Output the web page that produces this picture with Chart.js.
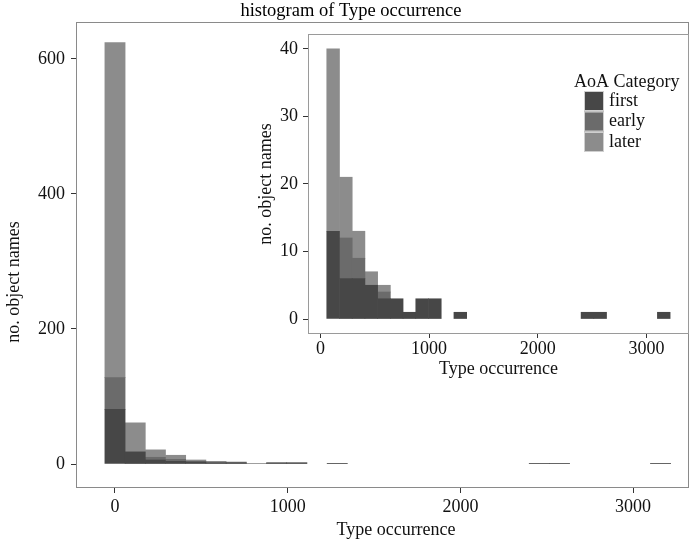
<!DOCTYPE html>
<html>
<head>
<meta charset="utf-8">
<script src="https://cdn.jsdelivr.net/npm/chart.js@4.4.1/dist/chart.umd.min.js"></script>
<style>
  html, body { margin: 0; padding: 0; background: #fff; }
  #wrap { position: relative; width: 700px; height: 541px; }
  #mainChart { position: absolute; left: 0; top: 0; }
  #insetChart { position: absolute; left: 250px; top: 28px; }
</style>
</head>
<body>
<div id="wrap">
  <canvas id="mainChart" width="700" height="541"></canvas>
  <canvas id="insetChart" width="450" height="352"></canvas>
</div>
<script>
// bin centres (Type occurrence), bin width ~117
const mainBins = [0, 117, 234, 351, 468, 585, 702, 819, 936, 1053, 1170, 1287, 1404, 1521,
  1638, 1755, 1872, 1989, 2106, 2223, 2340, 2457, 2574, 2691, 2808, 2925, 3042, 3159];
const mainFirst = [81, 18, 6, 4, 3, 2, 2, 0, 2, 2, 0, 1, 0, 0, 0, 0, 0, 0, 0, 0, 0, 1, 1, 0, 0, 0, 0, 1];
const mainEarly = [47, 0, 4, 3, 1, 0, 0, 0, 0, 0, 0, 0, 0, 0, 0, 0, 0, 0, 0, 0, 0, 0, 0, 0, 0, 0, 0, 0];
const mainLater = [496, 43, 11, 6, 2, 2, 1, 1, 0, 0, 0, 0, 0, 0, 0, 0, 0, 0, 0, 0, 0, 0, 0, 0, 0, 0, 0, 0];

const insetBins = [117, 234, 351, 468, 585, 702, 819, 936, 1053, 1170, 1287, 1404, 1521,
  1638, 1755, 1872, 1989, 2106, 2223, 2340, 2457, 2574, 2691, 2808, 2925, 3042, 3159];
const insetFirst = [13, 6, 6, 5, 3, 3, 1, 3, 3, 0, 1, 0, 0, 0, 0, 0, 0, 0, 0, 0, 1, 1, 0, 0, 0, 0, 1];
const insetEarly = [0, 6, 3, 0, 1, 0, 0, 0, 0, 0, 0, 0, 0, 0, 0, 0, 0, 0, 0, 0, 0, 0, 0, 0, 0, 0, 0];
const insetLater = [27, 9, 4, 2, 1, 0, 0, 0, 0, 0, 0, 0, 0, 0, 0, 0, 0, 0, 0, 0, 0, 0, 0, 0, 0, 0, 0];

const categories = ['first', 'early', 'later'];
const mainXTicks = [0, 1000, 2000, 3000];
const mainYTicks = [0, 200, 400, 600];
const insetXTicks = [0, 1000, 2000, 3000];
const insetYTicks = [0, 10, 20, 30, 40];

const colors = ['#474747', '#6b6b6b', '#8c8c8c'];
const serif = "'Liberation Serif', 'Times New Roman', serif";
const txt = '#111';

function makeDatasets(bins, series) {
  return series.map((vals, i) => ({
    label: categories[i],
    // empty bins are left out (null) so no hairline is drawn
    data: bins.map((x, j) => ({ x: x, y: vals[j] === 0 ? null : vals[j] })),
    backgroundColor: colors[i],
    borderWidth: 0,
    barPercentage: 1,
    categoryPercentage: 1
  }));
}

// grey box round the plot panel
const panelBorder = {
  id: 'panelBorder',
  afterDraw(chart, args, opts) {
    const a = chart.chartArea;
    const ctx = chart.ctx;
    ctx.save();
    ctx.strokeStyle = opts.color || '#888';
    ctx.lineWidth = 1;
    ctx.strokeRect(a.left - 0.5, a.top - 0.5, a.right - a.left + 1, a.bottom - a.top + 1);
    ctx.restore();
  }
};

// white backing for the inset, stopping at its right border
const insetBackground = {
  id: 'insetBackground',
  beforeDraw(chart) {
    const ctx = chart.ctx;
    ctx.save();
    ctx.fillStyle = '#fff';
    ctx.fillRect(0, 0, chart.chartArea.right, chart.height);
    ctx.restore();
  }
};

const insetLegend = {
  id: 'insetLegend',
  afterDraw(chart) {
    const ctx = chart.ctx;
    ctx.save();
    ctx.font = '18px ' + serif;
    ctx.textBaseline = 'middle';
    ctx.textAlign = 'left';
    ctx.fillStyle = txt;
    ctx.fillText('AoA Category', 324, 54);
    chart.data.datasets.forEach((ds, i) => {
      const y = 63 + i * 20.5;
      ctx.fillStyle = ds.backgroundColor;
      ctx.fillRect(334, y, 20, 20);
      ctx.strokeStyle = '#cfcfcf';
      ctx.strokeRect(334.5, y + 0.5, 19, 19);
      ctx.fillStyle = txt;
      ctx.fillText(ds.label, 359, y + 10);
    });
    ctx.restore();
  }
};

function axis(o) {
  return {
    type: 'linear',
    stacked: true,
    offset: false,
    min: o.min,
    max: o.max,
    afterBuildTicks: s => { s.ticks = o.ticks.map(v => ({ value: v })); },
    afterFit: s => {
      if (o.w !== undefined) s.width = o.w;
      if (o.h !== undefined) s.height = o.h;
      s.paddingTop = 0; s.paddingBottom = 0; s.paddingLeft = 0; s.paddingRight = 0;
    },
    grid: { drawOnChartArea: false, drawTicks: true, offset: false, tickLength: o.tickLen, tickColor: '#333', tickWidth: 1 },
    border: { display: false },
    ticks: { autoSkip: false, maxRotation: 0, padding: o.pad, color: txt, font: { family: serif, size: 18 }, callback: v => String(v) },
    title: { display: true, text: o.title, color: txt, font: { family: serif, size: 18 }, padding: o.titlePad }
  };
}

new Chart(document.getElementById('mainChart'), {
  type: 'bar',
  data: { datasets: makeDatasets(mainBins, [mainFirst, mainEarly, mainLater]) },
  options: {
    responsive: false,
    animation: false,
    devicePixelRatio: 1,
    layout: { padding: { top: 0, right: 12, left: 0, bottom: 0 } },
    scales: {
      x: axis({ min: -220, max: 3318, ticks: mainXTicks, h: 54, tickLen: 6, pad: 3,
        title: '      Type occurrence', titlePad: { top: 0, bottom: 0 } }),
      y: axis({ min: -34, max: 653, ticks: mainYTicks, w: 77, tickLen: 6, pad: 6,
        title: 'no. object names            ', titlePad: { top: 3, bottom: 0 } })
    },
    plugins: {
      legend: { display: false },
      tooltip: { enabled: false },
      title: { display: true, text: '   histogram of Type occurrence', color: '#000',
        font: { family: serif, size: 18.5, weight: 'normal' }, padding: { top: 0, bottom: 0.8 } },
      panelBorder: { color: '#8a8a8a' }
    }
  },
  plugins: [panelBorder]
});

new Chart(document.getElementById('insetChart'), {
  type: 'bar',
  data: { datasets: makeDatasets(insetBins, [insetFirst, insetEarly, insetLater]) },
  options: {
    responsive: false,
    animation: false,
    devicePixelRatio: 1,
    layout: { padding: { top: 7, right: 12, left: 0, bottom: 0 } },
    scales: {
      x: axis({ min: -105, max: 3382, ticks: insetXTicks, h: 47, tickLen: 5, pad: 0,
        title: 'Type occurrence', titlePad: { top: 0, bottom: 0 } }),
      y: axis({ min: -2.07, max: 42.06, ticks: insetYTicks, w: 59, tickLen: 6, pad: 5,
        title: 'no. object names', titlePad: { top: 5, bottom: 0 } })
    },
    plugins: {
      legend: { display: false },
      tooltip: { enabled: false },
      title: { display: false },
      panelBorder: { color: '#9a9a9a' }
    }
  },
  plugins: [insetBackground, panelBorder, insetLegend]
});
</script>
</body>
</html>
